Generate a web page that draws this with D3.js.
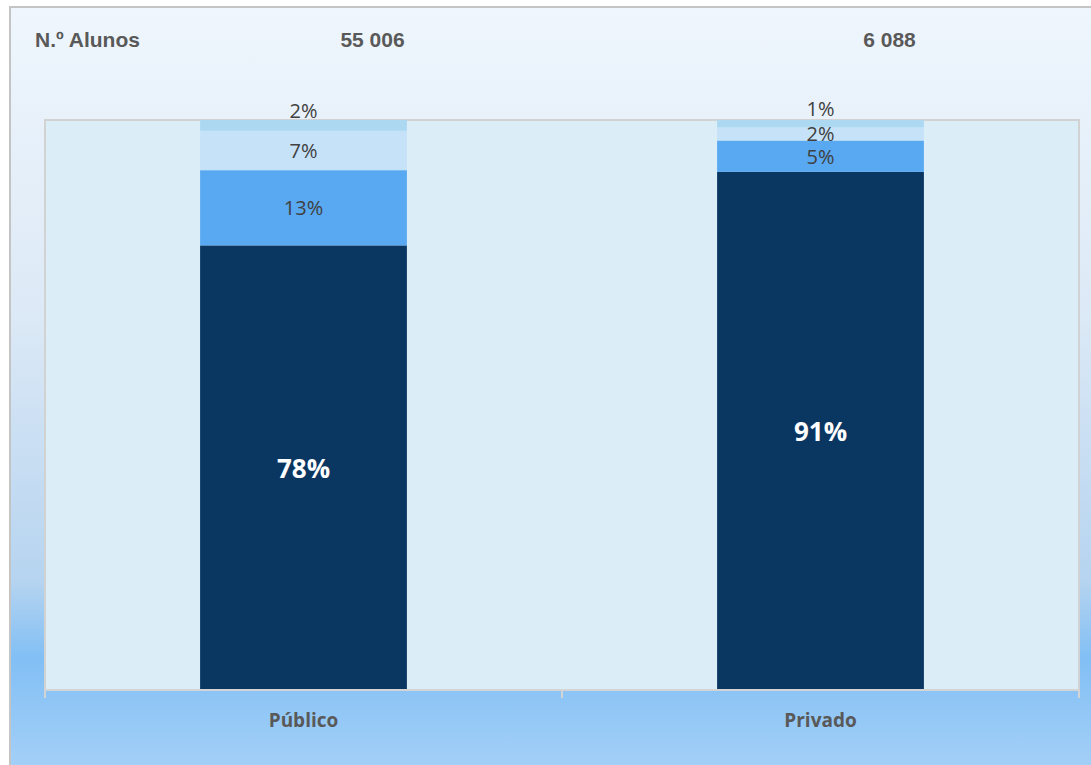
<!DOCTYPE html>
<html><head><meta charset="utf-8">
<script src="https://cdn.jsdelivr.net/npm/d3@7"></script>
<style>html,body{margin:0;padding:0;background:#fff;overflow:hidden}</style>
</head><body>
<script>
const categories = ["Público", "Privado"];
const totals = ["55 006", "6 088"];
const seriesNames = ["S1", "S2", "S3", "S4"];
const s1 = [78.0, 90.9];
const s2 = [13.2, 5.5];
const s3 = [6.9, 2.3];
const s4 = [1.9, 1.3];
const labels1 = ["78%", "91%"];
const labels2 = ["13%", "5%"];
const labels3 = ["7%", "2%"];
const labels4 = ["2%", "1%"];

const colors = ["#0a3662", "#58a9f1", "#c6e2f9", "#acd9f1"];
const W = 1091, H = 765;
const svg = d3.select("body").append("svg").attr("width", W).attr("height", H);
const defs = svg.append("defs");
const g = defs.append("linearGradient").attr("id", "bg").attr("x1", 0).attr("y1", 0).attr("x2", 0).attr("y2", 1);
[[0, "#eff6fd"], [0.4, "#dce9f6"], [0.74, "#b6d4f0"], [0.84, "#82bff5"], [1, "#a8d2f7"]]
  .forEach(([o, c]) => g.append("stop").attr("offset", o).attr("stop-color", c));

svg.append("rect").attr("x", 10).attr("y", 7).attr("width", W + 10).attr("height", H + 10)
  .attr("fill", "url(#bg)").attr("stroke", "#c4c4c4").attr("stroke-width", 2);

const px0 = 45, px1 = 1079, py0 = 120, py1 = 690;
const x = d3.scaleBand().domain(categories).range([px0, px1]).paddingInner(0.6).paddingOuter(0.3);
const y = d3.scaleLinear().domain([0, 100]).range([py1, py0]);

svg.append("rect").attr("x", px0).attr("y", py0).attr("width", px1 - px0).attr("height", py1 - py0)
  .attr("fill", "#dbeef7").attr("stroke", "#d2d2d2").attr("stroke-width", 2);

const rows = categories.map((c, i) => ({cat: c, S1: s1[i], S2: s2[i], S3: s3[i], S4: s4[i]}));
const stack = d3.stack().keys(seriesNames)(rows);
const allLabels = [labels1, labels2, labels3, labels4];

stack.forEach((layer, li) => {
  svg.append("g").selectAll("rect").data(layer).join("rect")
    .attr("x", d => x(d.data.cat)).attr("width", x.bandwidth())
    .attr("y", d => y(d[1])).attr("height", d => y(d[0]) - y(d[1]))
    .attr("fill", colors[li]);
});

stack.forEach((layer, li) => {
  svg.append("g").selectAll("text").data(layer).join("text")
    .attr("x", d => x(d.data.cat) + x.bandwidth() / 2)
    .attr("y", d => {
      const c = (y(d[0]) + y(d[1])) / 2;
      return li === 3 ? c - 15 : c;
    })
    .attr("text-anchor", "middle").attr("dominant-baseline", "central")
    .attr("font-family", "'Open Sans', sans-serif")
    .attr("font-size", li === 0 ? 26 : 20)
    .attr("font-weight", li === 0 ? "bold" : "normal")
    .attr("fill", li === 0 ? "#ffffff" : "#404040")
    .text((d, i) => allLabels[li][i]);
});

// axis
const axis = d3.axisBottom(x).tickSize(0).tickPadding(0).tickFormat("");
const ag = svg.append("g").attr("transform", `translate(0,${py1})`).call(axis);
ag.select(".domain").remove();
ag.append("line").attr("x1", px0).attr("x2", px1).attr("y1", 0).attr("y2", 0).attr("stroke", "#d4d4d4").attr("stroke-width", 2);
[px0, (px0 + px1) / 2, px1].forEach(t =>
  ag.append("line").attr("x1", t).attr("x2", t).attr("y1", 0).attr("y2", 8).attr("stroke", "#d4d4d4").attr("stroke-width", 2));

svg.append("g").selectAll("text").data(categories).join("text")
  .attr("x", d => x(d) + x.bandwidth() / 2).attr("y", 720)
  .attr("text-anchor", "middle").attr("dominant-baseline", "central")
  .attr("font-family", "'Open Sans', sans-serif").attr("font-size", 19).attr("font-weight", "bold")
  .attr("fill", "#595959").text(d => d);

svg.append("text").attr("x", 35).attr("y", 47)
  .attr("font-family", "'Liberation Sans', Arial, sans-serif").attr("font-size", 21).attr("font-weight", "bold")
  .attr("fill", "#595959").text("N.º Alunos");

svg.append("g").selectAll("text").data(categories).join("text")
  .attr("x", d => x(d) + x.bandwidth() / 2 + 69).attr("y", 47)
  .attr("text-anchor", "middle")
  .attr("font-family", "'Liberation Sans', Arial, sans-serif").attr("font-size", 21).attr("font-weight", "bold")
  .attr("fill", "#595959").text((d, i) => totals[i]);
</script>
</body></html>
